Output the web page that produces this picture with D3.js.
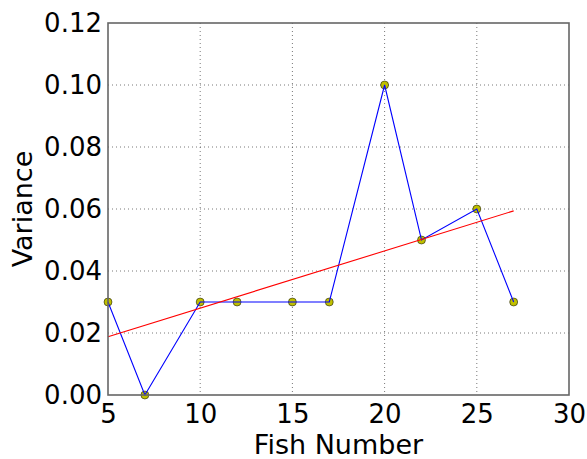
<!DOCTYPE html>
<html>
<head>
<meta charset="utf-8">
<script src="https://cdn.jsdelivr.net/npm/d3@7"></script>
<style>
  body { margin: 0; background: #fff; }
  svg { display: block; font-family: "DejaVu Sans", sans-serif; }
</style>
</head>
<body>
<svg id="chart" width="587" height="459"></svg>
<script>
// fish numbers and measured variance
var fishNumbers = [5, 7, 10, 12, 15, 17, 20, 22, 25, 27];
var variances = [0.03, 0.0, 0.03, 0.03, 0.03, 0.03, 0.10, 0.05, 0.06, 0.03];
// trend line endpoints
var fitX = [5, 27];
var fitY = [0.0188, 0.0594];
var xTicks = [5, 10, 15, 20, 25, 30];
var yTicks = [0.00, 0.02, 0.04, 0.06, 0.08, 0.10, 0.12];

var svg = d3.select("#chart");
var margin = { top: 23, right: 18, bottom: 64, left: 108 };
var width = +svg.attr("width") - margin.left - margin.right;
var height = +svg.attr("height") - margin.top - margin.bottom;
var g = svg.append("g").attr("transform", "translate(" + margin.left + "," + margin.top + ")");

var x = d3.scaleLinear().domain([5, 30]).range([0, width]);
var y = d3.scaleLinear().domain([0, 0.12]).range([height, 0]);

// grid
g.append("g").selectAll("line").data(xTicks.slice(1, -1)).enter().append("line")
  .attr("x1", function (d) { return x(d); }).attr("x2", function (d) { return x(d); })
  .attr("y1", 0).attr("y2", height)
  .attr("stroke", "#555").attr("stroke-width", 0.8).attr("stroke-dasharray", "1,3");
g.append("g").selectAll("line").data(yTicks.slice(1, -1)).enter().append("line")
  .attr("y1", function (d) { return y(d); }).attr("y2", function (d) { return y(d); })
  .attr("x1", 0).attr("x2", width)
  .attr("stroke", "#555").attr("stroke-width", 0.8).attr("stroke-dasharray", "1,3");

// axes (labels only, frame drawn separately)
var xAxis = g.append("g").attr("transform", "translate(0," + height + ")")
  .call(d3.axisBottom(x).tickValues(xTicks).tickFormat(d3.format("d")).tickSize(0).tickPadding(6));
var yAxis = g.append("g")
  .call(d3.axisLeft(y).tickValues(yTicks).tickFormat(d3.format(".2f")).tickSize(0).tickPadding(6));
[xAxis, yAxis].forEach(function (a) {
  a.select(".domain").remove();
  a.selectAll("text").attr("font-size", 26).attr("font-family", "DejaVu Sans").attr("fill", "#000");
});
xAxis.selectAll("text").attr("dy", "0.85em");

// markers
g.append("g").selectAll("circle").data(fishNumbers).enter().append("circle")
  .attr("cx", function (d) { return x(d); })
  .attr("cy", function (d, i) { return y(variances[i]); })
  .attr("r", 4)
  .attr("fill", "#bfbf00").attr("stroke", "#000").attr("stroke-width", 0.5);

// data line
var line = d3.line()
  .x(function (d) { return x(d[0]); })
  .y(function (d) { return y(d[1]); });
g.append("path")
  .datum(d3.zip(fishNumbers, variances))
  .attr("d", line)
  .attr("fill", "none").attr("stroke", "#0000ff").attr("stroke-width", 1.1);

// fit line
g.append("path")
  .datum(d3.zip(fitX, fitY))
  .attr("d", line)
  .attr("fill", "none").attr("stroke", "#ff0000").attr("stroke-width", 1.1);

// frame
g.append("rect")
  .attr("width", width).attr("height", height)
  .attr("fill", "none").attr("stroke", "#666").attr("stroke-width", 1.6);

// axis titles
svg.append("text")
  .attr("x", margin.left + width / 2).attr("y", 454)
  .attr("text-anchor", "middle").attr("font-size", 27)
  .text("Fish Number");
svg.append("text")
  .attr("transform", "translate(32," + (margin.top + height / 2) + ") rotate(-90)")
  .attr("text-anchor", "middle").attr("font-size", 27)
  .text("Variance");
</script>
</body>
</html>
